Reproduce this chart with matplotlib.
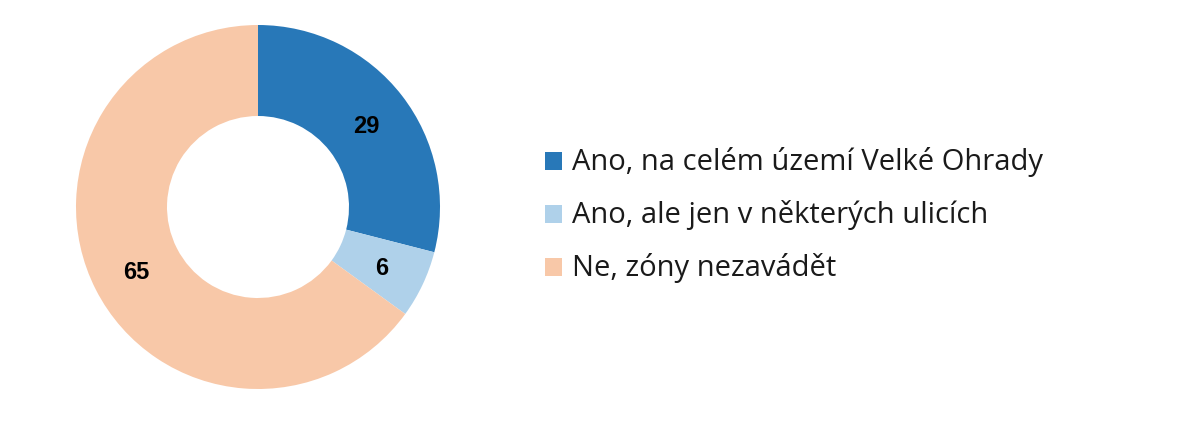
import matplotlib
matplotlib.use('Agg')
import matplotlib.pyplot as plt
from matplotlib.patches import Rectangle
import numpy as np

plt.rcParams['font.family'] = ['Open Sans', 'DejaVu Sans']

labels = ['Ano, na celém území Velké Ohrady', 'Ano, ale jen v některých ulicích', 'Ne, zóny nezavádět']
values = [29, 6, 65]
colors = ['#2878B8', '#AFD1EA', '#F8C8A8']

W, H = 1181, 424
fig = plt.figure(figsize=(W / 100, H / 100), dpi=100)

# donut: centre ~ (258, 207) px, radius ~182 px
ax = fig.add_axes([(258 - 182) / W, (H - 207 - 182) / H, 364 / W, 364 / H])
wedges, texts = ax.pie(values, colors=colors, startangle=90, counterclock=False,
                       radius=1, wedgeprops=dict(width=0.5, linewidth=0))
for w, v in zip(wedges, values):
    ang = np.deg2rad((w.theta1 + w.theta2) / 2)
    ax.text(0.75 * np.cos(ang), 0.75 * np.sin(ang) - 0.02, str(v), ha='center',
            va='center', fontsize=17, fontweight='bold', color='black',
            family=['Liberation Sans', 'DejaVu Sans'])
ax.set_xlim(-1, 1)
ax.set_ylim(-1, 1)
ax.set_aspect('equal')
ax.axis('off')

# legend drawn by hand, rows 53 px apart
for i, (lab, c) in enumerate(zip(labels, colors)):
    base = 170 + 53 * i
    fig.patches.append(Rectangle((545 / W, (H - base) / H), 17 / W, 18 / H,
                                 facecolor=c, edgecolor='none',
                                 transform=fig.transFigure, figure=fig))
    fig.text(572 / W, (H - base) / H, lab, fontsize=21, ha='left', va='baseline',
             color='#1a1a1a')

fig.savefig('out.png', dpi=100)
